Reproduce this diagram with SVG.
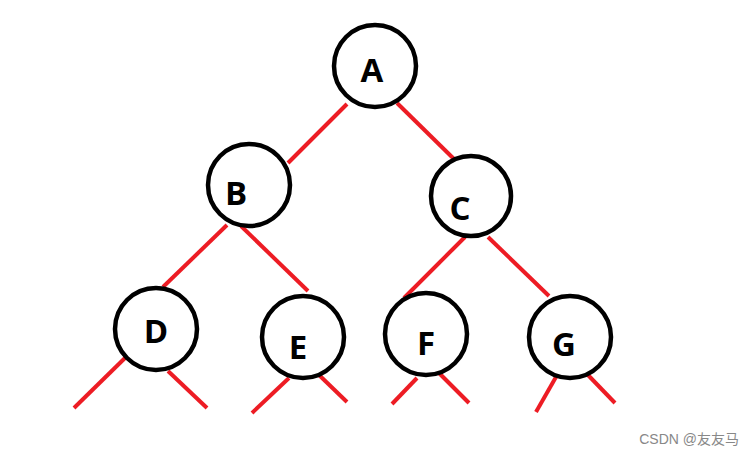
<svg xmlns="http://www.w3.org/2000/svg" width="756" height="456" viewBox="0 0 756 456">
<style>
.n{fill:#fff;stroke:#000;stroke-width:4.5}
.l{font-family:"Open Sans","Liberation Sans",sans-serif;font-weight:bold;font-size:33px;fill:#000;text-anchor:middle}
.e{stroke:#ed1c24;stroke-width:4;stroke-linecap:butt;fill:none}
.w{font-family:"Liberation Sans","Noto Sans CJK SC",sans-serif;font-size:14px;fill:#888;text-anchor:end}
</style>
<rect width="756" height="456" fill="#fff"/>
<g id="connectors">
<line class="e" x1="347" y1="104" x2="288" y2="163"/>
<line class="e" x1="397" y1="103" x2="455" y2="160"/>
<line class="e" x1="227" y1="225" x2="163" y2="287"/>
<line class="e" x1="241" y1="226" x2="308" y2="291"/>
<line class="e" x1="465" y1="237" x2="404" y2="298"/>
<line class="e" x1="488" y1="237" x2="549" y2="296"/>
<line class="e" x1="126" y1="357" x2="74" y2="408"/>
<line class="e" x1="168" y1="371" x2="207" y2="408"/>
<line class="e" x1="289" y1="378" x2="252" y2="413"/>
<line class="e" x1="318" y1="374" x2="347" y2="402"/>
<line class="e" x1="417" y1="378" x2="392" y2="404"/>
<line class="e" x1="439" y1="373" x2="469" y2="403"/>
<line class="e" x1="556" y1="377" x2="536" y2="412"/>
<line class="e" x1="587" y1="374" x2="615" y2="403"/>
</g>
<g id="A"><circle class="n" cx="375" cy="66" r="41"/><text class="l" x="372" y="82">A</text></g>
<g id="B"><circle class="n" cx="249" cy="185" r="41"/><text class="l" x="236" y="205">B</text></g>
<g id="C"><circle class="n" cx="471" cy="196" r="40"/><text class="l" x="460" y="220">C</text></g>
<g id="D"><circle class="n" cx="156" cy="329" r="41"/><text class="l" x="156" y="343">D</text></g>
<g id="E"><circle class="n" cx="303" cy="337" r="41"/><text class="l" x="298" y="359">E</text></g>
<g id="F"><circle class="n" cx="426" cy="334" r="41"/><text class="l" x="426" y="355">F</text></g>
<g id="G"><circle class="n" cx="570" cy="337" r="41"/><text class="l" x="564" y="356">G</text></g>
<text class="w" x="739" y="444">CSDN @友友马</text>
</svg>
